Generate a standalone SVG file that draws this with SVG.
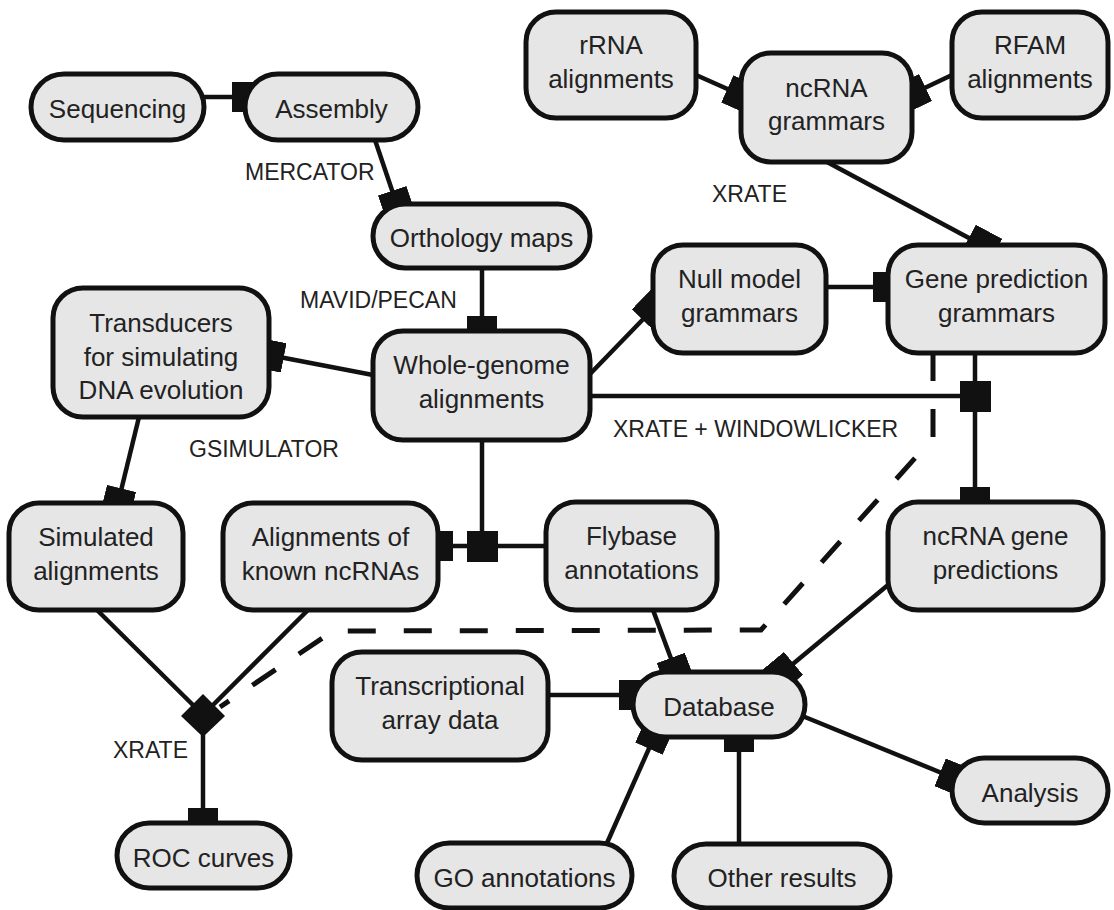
<svg xmlns="http://www.w3.org/2000/svg" width="1114" height="910" viewBox="0 0 1114 910">
<defs>
<marker id="blk" viewBox="0 0 30 30" refX="15" refY="15" markerWidth="30" markerHeight="30" markerUnits="userSpaceOnUse" orient="auto">
<path d="M0,0 H30 V30 H0 Z" fill="#111"/>
</marker>
</defs>
<style>
.n{fill:#e6e6e6;stroke:#111;stroke-width:5}
.t{font-family:"Liberation Sans",Arial,sans-serif;font-size:26px;fill:#222;text-anchor:middle}
.l{font-family:"Liberation Sans",Arial,sans-serif;font-size:23px;fill:#222}
.c{fill:none;stroke:#111;stroke-width:4.5}
.m{marker-end:url(#blk)}
.d{fill:none;stroke:#111;stroke-width:5;stroke-dasharray:28 28}
</style>
<rect width="1114" height="910" fill="#fff"/>
<g id="connectors">
<path class="c m" d="M202,97 L247,97"/>
<path class="c m" d="M375,140 L397,205"/>
<path class="c m" d="M482,268 L482,331"/>
<path class="c m" d="M696,75 L741,95"/>
<path class="c m" d="M952,75 L912,94"/>
<path class="c m" d="M827,162 L982,245"/>
<path class="c m" d="M826,287 L888,287"/>
<path class="c m" d="M590,374 L653,309"/>
<path class="c m" d="M373,375 L269,355"/>
<path class="c m" d="M139,417 L118,503"/>
<path class="c" d="M590,396 L975,396"/>
<path class="c m" d="M975,353 L975,502"/>
<rect x="960" y="381" width="31" height="31" fill="#111"/>
<path class="c" d="M482,440 L482,546"/>
<path class="c m" d="M546,546 L438,546"/>
<rect x="467" y="531" width="31" height="31" fill="#111"/>
<path class="c" d="M97,610 L196,708"/>
<path class="c" d="M308,610 L210,708"/>
<polygon points="203,694 225,716 203,737 181,716" fill="#111"/>
<path class="c m" d="M203,735 L203,823"/>
<path class="d" d="M933,353 L933,438 L761,630 L333,631 L220,707"/>
<path class="c m" d="M653,610 L676,672"/>
<path class="c m" d="M888,585 L782,673"/>
<path class="c m" d="M548,695 L634,695"/>
<path class="c m" d="M607,843 L655,735"/>
<path class="c m" d="M739,844 L739,737"/>
<path class="c m" d="M800,715 L954,778"/>
</g>
<g id="labels">
<text class="l" x="245" y="180">MERCATOR</text>
<text class="l" x="300" y="308">MAVID/PECAN</text>
<text class="l" x="712" y="202">XRATE</text>
<text class="l" x="189" y="457">GSIMULATOR</text>
<text class="l" x="613" y="437">XRATE + WINDOWLICKER</text>
<text class="l" x="113" y="758">XRATE</text>
</g>
<g id="sequencing"><rect class="n" x="31" y="74" width="173" height="66" rx="33"/><text class="t" x="117.5" y="118">Sequencing</text></g>
<g id="assembly"><rect class="n" x="245" y="74" width="173" height="66" rx="33"/><text class="t" x="331.5" y="118">Assembly</text></g>
<g id="orthology"><rect class="n" x="373" y="204" width="217" height="64" rx="32"/><text class="t" x="481.5" y="247">Orthology maps</text></g>
<g id="rrna"><rect class="n" x="526" y="12" width="170" height="106" rx="30"/><text class="t" x="611" y="54">rRNA</text><text class="t" x="611" y="88">alignments</text></g>
<g id="ncrna-grammars"><rect class="n" x="741" y="53" width="171" height="109" rx="30"/><text class="t" x="826.5" y="97">ncRNA</text><text class="t" x="826.5" y="130">grammars</text></g>
<g id="rfam"><rect class="n" x="952" y="12" width="156" height="106" rx="30"/><text class="t" x="1030" y="54">RFAM</text><text class="t" x="1030" y="88">alignments</text></g>
<g id="null-model"><rect class="n" x="653" y="245" width="173" height="108" rx="30"/><text class="t" x="739.5" y="288">Null model</text><text class="t" x="739.5" y="322">grammars</text></g>
<g id="gene-prediction"><rect class="n" x="888" y="245" width="217" height="108" rx="30"/><text class="t" x="996.5" y="288">Gene prediction</text><text class="t" x="996.5" y="322">grammars</text></g>
<g id="transducers"><rect class="n" x="53" y="288" width="216" height="129" rx="30"/><text class="t" x="161" y="332">Transducers</text><text class="t" x="161" y="366">for simulating</text><text class="t" x="161" y="399">DNA evolution</text></g>
<g id="whole-genome"><rect class="n" x="373" y="331" width="217" height="109" rx="30"/><text class="t" x="481.5" y="374">Whole-genome</text><text class="t" x="481.5" y="408">alignments</text></g>
<g id="simulated"><rect class="n" x="9" y="503" width="174" height="107" rx="30"/><text class="t" x="96" y="546">Simulated</text><text class="t" x="96" y="580">alignments</text></g>
<g id="known-ncrnas"><rect class="n" x="223" y="503" width="215" height="107" rx="30"/><text class="t" x="330.5" y="546">Alignments of</text><text class="t" x="330.5" y="580">known ncRNAs</text></g>
<g id="flybase"><rect class="n" x="546" y="502" width="171" height="108" rx="30"/><text class="t" x="631.5" y="545">Flybase</text><text class="t" x="631.5" y="579">annotations</text></g>
<g id="ncrna-predictions"><rect class="n" x="888" y="502" width="215" height="108" rx="30"/><text class="t" x="995.5" y="545">ncRNA gene</text><text class="t" x="995.5" y="579">predictions</text></g>
<g id="transcriptional"><rect class="n" x="332" y="652" width="216" height="108" rx="30"/><text class="t" x="440" y="695">Transcriptional</text><text class="t" x="440" y="729">array data</text></g>
<g id="database"><rect class="n" x="633" y="672" width="172" height="65" rx="32.5"/><text class="t" x="719" y="716">Database</text></g>
<g id="analysis"><rect class="n" x="952" y="758" width="156" height="65" rx="32.5"/><text class="t" x="1030" y="802">Analysis</text></g>
<g id="roc"><rect class="n" x="117" y="823" width="173" height="65" rx="32.5"/><text class="t" x="203.5" y="867">ROC curves</text></g>
<g id="go"><rect class="n" x="417" y="843" width="215" height="65" rx="32.5"/><text class="t" x="524.5" y="887">GO annotations</text></g>
<g id="other"><rect class="n" x="674" y="844" width="216" height="64" rx="32"/><text class="t" x="782" y="887">Other results</text></g>
</svg>
